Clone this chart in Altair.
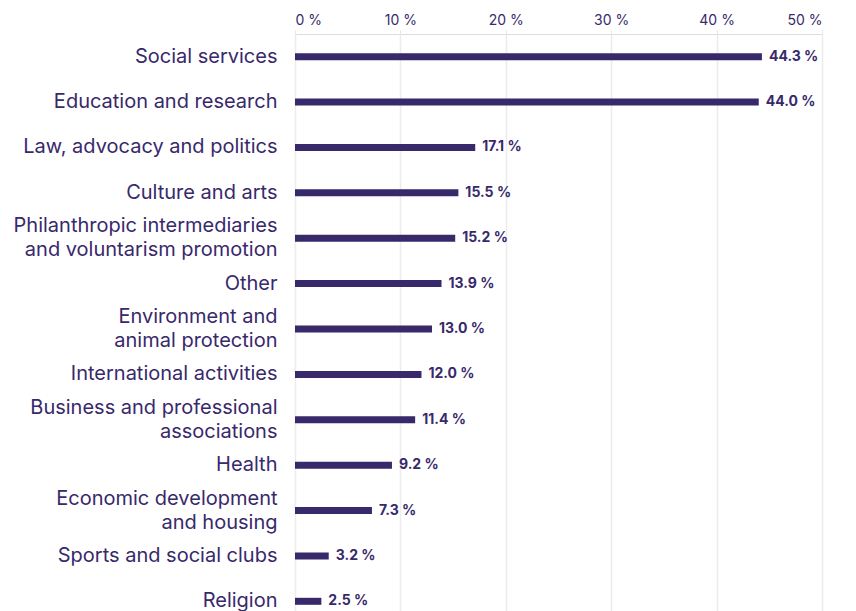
import altair as alt
import pandas as pd

categories = [
    "Social services",
    "Education and research",
    "Law, advocacy and politics",
    "Culture and arts",
    "Philanthropic intermediaries\nand voluntarism promotion",
    "Other",
    "Environment and\nanimal protection",
    "International activities",
    "Business and professional\nassociations",
    "Health",
    "Economic development\nand housing",
    "Sports and social clubs",
    "Religion",
]
values = [44.3, 44.0, 17.1, 15.5, 15.2, 13.9, 13.0, 12.0, 11.4, 9.2, 7.3, 3.2, 2.5]
ticks = [0, 10, 20, 30, 40, 50]

df = pd.DataFrame({"cat": categories, "val": values})
df["lbl"] = df["val"].map(lambda v: f"{v:.1f} %")

COLOR = "#38296b"
FONT = "Inter"

base = alt.Chart(df).encode(
    y=alt.Y(
        "cat:N",
        sort=categories,
        title=None,
        axis=alt.Axis(
            labelExpr="split(datum.value, '\\n')",
            labelFontSize=20,
            labelColor=COLOR,
            labelFont=FONT,
            labelPadding=18,
            labelLineHeight=24,
            labelBaseline="middle",
            labelOffset=alt.condition("indexof(datum.value, '\\n') >= 0", alt.value(-12), alt.value(0)),
            ticks=False,
            domain=False,
            grid=False,
            labelLimit=400,
        ),
        scale=alt.Scale(paddingInner=0, paddingOuter=0),
    )
)

bars = base.mark_bar(color=COLOR, size=7).encode(
    x=alt.X(
        "val:Q",
        title=None,
        scale=alt.Scale(domain=[0, 50], nice=False),
        axis=alt.Axis(
            orient="top",
            values=ticks,
            labelExpr="datum.value + ' %'",
            labelFontSize=14,
            labelColor=COLOR,
            labelFont=FONT,
            labelPadding=3,
            tickColor="#e6e6e6",
            tickSize=4,
            domain=False,
            grid=True,
            gridColor="#ececec",
            gridWidth=1.5,
        ),
    )
)

text = base.mark_text(
    align="left", baseline="middle", dx=7, fontSize=14, fontWeight="bold", font=FONT, color=COLOR
).encode(x="val:Q", text="lbl:N")

chart = (bars + text).properties(width=527, height=590).configure_view(stroke=None).configure(background="white")

chart.save("out.html", embed_options={"renderer": "svg", "actions": False})
